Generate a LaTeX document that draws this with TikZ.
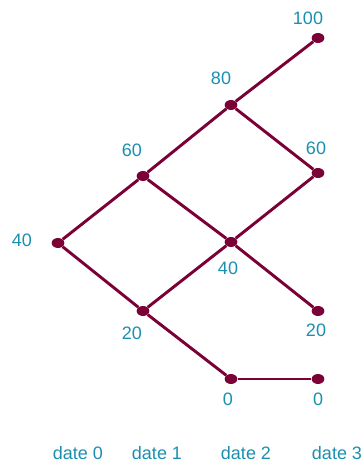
\documentclass[tikz,border=0pt]{standalone}
\usepackage{fontspec}
\setmainfont{Liberation Sans}
\usetikzlibrary{shapes.geometric}

\begin{document}
\begin{tikzpicture}[x=0.75pt, y=-0.75pt]

  \definecolor{branch}{RGB}{122, 0, 54}
  \definecolor{price}{RGB}{26, 143, 176}

  \tikzset{
    state/.style={ellipse, fill=branch, minimum width=9.5pt, minimum height=7.5pt, inner sep=0pt},
    val/.style={price, font=\fontsize{13.5}{16}\selectfont},
    edge/.style={branch, line width=2.2pt}
  }

  \useasboundingbox (0, 0) rectangle (363, 463);

  % States of the tree
  \node[state] (a0) at (58, 243) {};
  \node[state] (b1) at (143, 176) {};
  \node[state] (b2) at (143, 311) {};
  \node[state] (c1) at (231, 105) {};
  \node[state] (c2) at (231, 242) {};
  \node[state] (c3) at (231, 379) {};
  \node[state] (d1) at (318, 38) {};
  \node[state] (d2) at (318, 173) {};
  \node[state] (d3) at (318, 311) {};
  \node[state] (d4) at (318, 379) {};

  % Branches
  \draw[edge] (a0) -- (b1);
  \draw[edge] (a0) -- (b2);
  \draw[edge] (b1) -- (c1);
  \draw[edge] (b1) -- (c2);
  \draw[edge] (b2) -- (c2);
  \draw[edge] (b2) -- (c3);
  \draw[edge] (c1) -- (d1);
  \draw[edge] (c1) -- (d2);
  \draw[edge] (c2) -- (d2);
  \draw[edge] (c2) -- (d3);
  \draw[edge] (c3) -- (d4);

  % Values
  \node[val] (va0) at (22, 240)  {40};
  \node[val] (vb1) at (132, 150) {60};
  \node[val] (vb2) at (132, 333) {20};
  \node[val] (vc1) at (221, 78)  {80};
  \node[val] (vc2) at (228, 268) {40};
  \node[val] (vc3) at (228, 399) {0};
  \node[val] (vd1) at (308, 18)  {100};
  \node[val] (vd2) at (316, 148) {60};
  \node[val] (vd3) at (316, 330) {20};
  \node[val] (vd4) at (318, 399) {0};

  % Dates
  \node[val] (t0) at (78, 453)  {date 0};
  \node[val] (t1) at (157, 453) {date 1};
  \node[val] (t2) at (246, 453) {date 2};
  \node[val] (t3) at (337, 453) {date 3};

\end{tikzpicture}
\end{document}
